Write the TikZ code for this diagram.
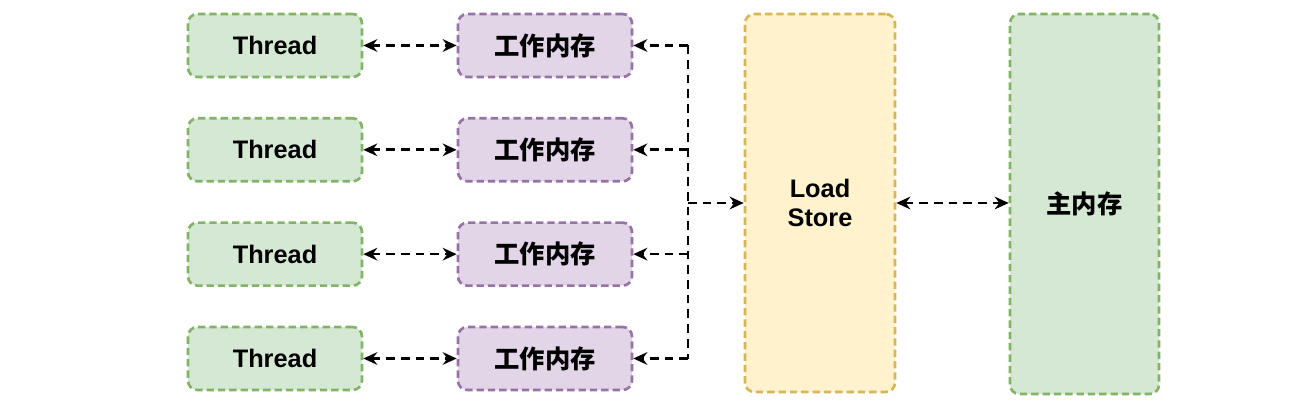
\documentclass[tikz,border=0pt]{standalone}
\usepackage{fontspec}
\setmainfont{Liberation Sans}
\newfontfamily\cjk{Noto Sans CJK SC}
\usetikzlibrary{positioning,arrows.meta}
\usepackage{xcolor}
\definecolor{greenfill}{HTML}{D5E8D4}
\definecolor{greenline}{HTML}{82B366}
\definecolor{purplefill}{HTML}{E1D5E7}
\definecolor{purpleline}{HTML}{9673A6}
\definecolor{yellowfill}{HTML}{FFF2CC}
\definecolor{yellowline}{HTML}{D6B656}

\begin{document}
\begin{tikzpicture}[
    x=0.75pt, y=-0.75pt,
    font=\fontsize{19}{22}\selectfont\bfseries,
    >={Stealth[length=10.5pt, width=9.5pt, inset=3.5pt]},
    box/.style={line width=2pt, dash pattern=on 5.5pt off 3pt, rounded corners=7pt, align=center, inner sep=0pt},
    thread/.style={box, draw=greenline, fill=greenfill, minimum width=130.5pt, minimum height=47.25pt},
    work/.style={box, draw=purpleline, fill=purplefill, minimum width=130.5pt, minimum height=47.25pt, font=\fontsize{19}{22}\selectfont\cjk\bfseries},
    ldst/.style={box, draw=yellowline, fill=yellowfill, minimum width=112.5pt, minimum height=283.5pt},
    mem/.style={box, draw=greenline, fill=greenfill, minimum width=111.75pt, minimum height=285pt, font=\fontsize{19}{22}\selectfont\cjk\bfseries},
    link/.style={line width=2pt, dash pattern=on 6.5pt off 4.5pt, black}
]
\useasboundingbox (0,0) rectangle (1312,416);

% --- Threads ---
\node[thread] (t1) at (275,45.5) {Thread};
\node[thread, below=29pt of t1] (t2) {Thread};
\node[thread, below=29pt of t2] (t3) {Thread};
\node[thread, below=29pt of t3] (t4) {Thread};

% --- Working memory ---
\node[work, right=70pt of t1] (w1) {工作内存};
\node[work, right=70pt of t2] (w2) {工作内存};
\node[work, right=70pt of t3] (w3) {工作内存};
\node[work, right=70pt of t4] (w4) {工作内存};

\draw[link, <->] (t1) -- (w1);
\draw[link, <->] (t2) -- (w2);
\draw[link, <->] (t3) -- (w3);
\draw[link, <->] (t4) -- (w4);

% --- Load / Store and main memory ---
\node[ldst] (ls) at (820,203) {Load\\Store};
\node[mem] (mm) at (1084.5,204) {主内存};

% --- Bus ---
\coordinate (bus) at (688,203);
\coordinate (b1) at (w1.east -| bus);
\coordinate (b2) at (w2.east -| bus);
\coordinate (b3) at (w3.east -| bus);
\coordinate (b4) at (w4.east -| bus);

\draw[link] (b1) -- (b4);
\draw[link, ->] (b1) -- (w1.east);
\draw[link, ->] (b2) -- (w2.east);
\draw[link, ->] (b3) -- (w3.east);
\draw[link, ->] (b4) -- (w4.east);
\draw[link, ->] (bus) -- (ls.west);

\draw[link, <->] (ls.east) -- (ls.east -| mm.west);

\end{tikzpicture}
\end{document}
